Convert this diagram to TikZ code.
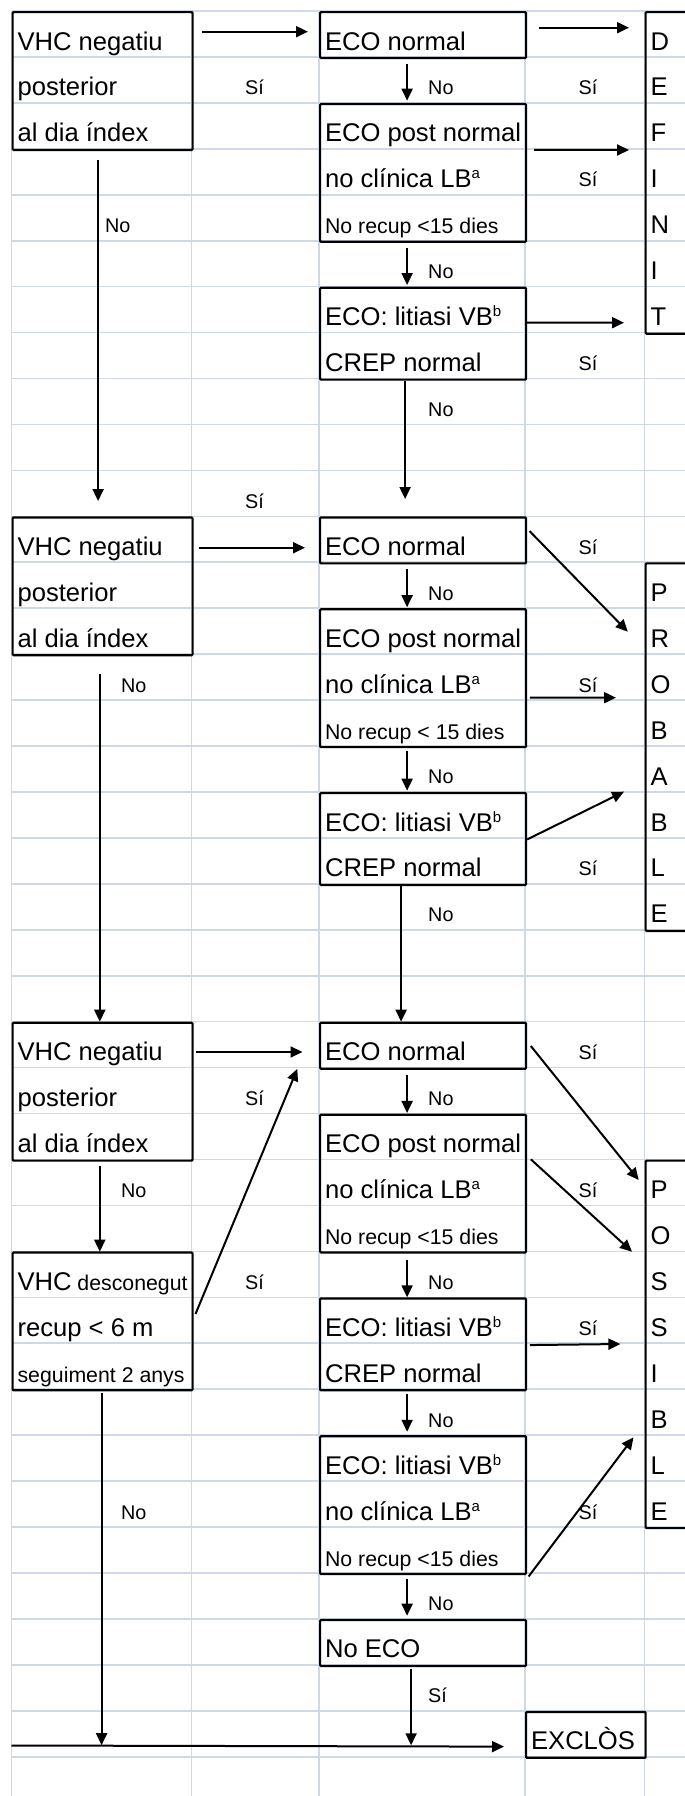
\documentclass[tikz,border=0pt]{standalone}
\usepackage{fontspec}
\setmainfont{Liberation Sans}
\usetikzlibrary{arrows.meta,calc}
\definecolor{gridblue}{RGB}{208,215,229}
\newcommand{\bigf}{\fontsize{25.6pt}{45.94pt}\selectfont}
\newcommand{\smallf}{\fontsize{21.3pt}{45.94pt}\selectfont}
\newcommand{\lblf}{\fontsize{19.8pt}{24pt}\selectfont}
\newcommand{\rw}{\rule[-8pt]{0pt}{45.94pt}}
\newcommand{\cellbr}{\\\rw}
\newcommand{\supx}[1]{\raisebox{9pt}{\fontsize{15pt}{15pt}\selectfont #1}}
\tikzset{
  gridln/.style={draw=gridblue, line width=1.6pt},
  box/.style={draw, line width=2.2pt, rounded corners=1pt, anchor=north west,
              align=left, inner xsep=5pt, inner ysep=0pt, font=\bigf,
              text width={#1-10pt},
              execute at begin node={\spaceskip=0pt\xspaceskip=0pt
                \hyphenpenalty=10000\exhyphenpenalty=10000\rw}},
  arr/.style={-{Triangle[length=12pt,width=11pt]}, line width=2pt},
  lbl/.style={font=\lblf, inner sep=0pt, anchor=base},
  lblw/.style={lbl, anchor=base west},
}
\begin{document}
\begin{tikzpicture}[x=1pt, y=-1pt]
  \clip (0,0) rectangle (685,1796);
  \fill[white] (0,0) rectangle (685,1796);
  % sheet grid
  \foreach \k in {0,...,38}
    \draw[gridln] (11.5,{11+45.94*\k}) -- (685,{11+45.94*\k});
  \foreach \x in {11.5,191.5,319,525,644.5}
    \draw[gridln] (\x,11) -- (\x,1796);

  % definit
  \node[box=180pt] (vhcA) at (11.5,11) {VHC negatiu\cellbr posterior\cellbr al dia índex};
  \node[box=206pt] (ecoA) at (319,11) {ECO normal};
  \node[box=206pt] (postA) at (319,102.88)
    {ECO~post~normal\cellbr no clínica LB\supx{a}\cellbr{\smallf No~recup~<15~dies}};
  \node[box=206pt] (litA) at (319,286.64) {ECO: litiasi VB\supx{b}\cellbr CREP normal};
  \node[box=70pt] (defin) at (644.5,11) {D\cellbr E\cellbr F\cellbr I\cellbr N\cellbr I\cellbr T};

  % probable
  \node[box=180pt] (vhcB) at (11.5,516.34) {VHC negatiu\cellbr posterior\cellbr al dia índex};
  \node[box=206pt] (ecoB) at (319,516.34) {ECO normal};
  \node[box=206pt] (postB) at (319,608.22)
    {ECO~post~normal\cellbr no clínica LB\supx{a}\cellbr{\smallf No~recup~<~15~dies}};
  \node[box=206pt] (litB) at (319,791.98) {ECO: litiasi VB\supx{b}\cellbr CREP normal};
  \node[box=70pt] (prob) at (644.5,562.28)
    {P\cellbr R\cellbr O\cellbr B\cellbr A\cellbr B\cellbr L\cellbr E};

  % possible
  \node[box=180pt] (vhcC) at (11.5,1021.68) {VHC negatiu\cellbr posterior\cellbr al dia índex};
  \node[box=206pt] (ecoC) at (319,1021.68) {ECO normal};
  \node[box=206pt] (postC) at (319,1113.56)
    {ECO~post~normal\cellbr no clínica LB\supx{a}\cellbr{\smallf No~recup~<15~dies}};
  \node[box=180pt] (desc) at (11.5,1251.38)
    {VHC~{\smallf desconegut}\cellbr recup~<~6~m\cellbr{\smallf seguiment~2~anys}};
  \node[box=206pt] (litC) at (319,1297.32) {ECO: litiasi VB\supx{b}\cellbr CREP normal};
  \node[box=206pt] (litD) at (319,1435.14)
    {ECO: litiasi VB\supx{b}\cellbr no clínica LB\supx{a}\cellbr{\smallf No~recup~<15~dies}};
  \node[box=70pt] (poss) at (644.5,1159.5)
    {P\cellbr O\cellbr S\cellbr S\cellbr I\cellbr B\cellbr L\cellbr E};
  \node[box=206pt] (noeco) at (319,1618.9) {No ECO};
  \node[box=119.5pt] (exclos) at (525,1710.78) {EXCLÒS};
  \coordinate (base) at (11.5,1745.5);

  % arrows, first block
  \draw[arr] ($(vhcA.north east)+(8.5,20.7)$) -- ($(ecoA.north west)+(-11,20.7)$);
  \draw[arr] ($(ecoA.north east)+(11.5,16.7)$) -- ($(defin.north west)+(-15.5,16.7)$);
  \draw[arr] ($(ecoA.south)+(-16,4.8)$) -- ($(postA.north)+(-16,-2.2)$);
  \draw[arr] ($(postA.north east)+(7,47.1)$) -- ($(defin.north west)+(-15.5,139)$);
  \draw[arr] ($(postA.south)+(-16,5)$) -- ($(litA.north)+(-16,-1.6)$);
  \draw[arr] ($(litA.north east)+(0,36)$) -- ($(defin.north west)+(-20.5,311.7)$);
  \draw[arr] ($(vhcA.south)+(-4.5,9)$) -- ($(vhcB.north)+(-4.5,-15.3)$);
  \draw[arr] ($(litA.south)+(-18,0)$) -- ($(ecoB.north)+(-18,-17.3)$);

  % arrows, second block
  \draw[arr] ($(vhcB.north east)+(5,31.4)$) -- ($(ecoB.north west)+(-14,31.4)$);
  \draw[arr] ($(ecoB.north east)+(2.3,14.7)$) -- ($(prob.north west)+(-16.7,69.4)$);
  \draw[arr] ($(ecoB.south)+(-16,4.4)$) -- ($(postB.north)+(-16,-1)$);
  \draw[arr] ($(postB.north east)+(2.7,89.5)$) -- ($(prob.north west)+(-28.5,135.4)$);
  \draw[arr] ($(postB.south)+(-16,3)$) -- ($(litB.north)+(-16,-1.3)$);
  \draw[arr] ($(litB.east)+(0,0.4)$) -- ($(prob.north west)+(-20.5,229.4)$);
  \draw[arr] ($(vhcB.south)+(-2.8,17.5)$) -- ($(vhcC.north)+(-2.8,0)$);
  \draw[arr] ($(litB.south)+(-22,0)$) -- ($(ecoC.north)+(-22,0)$);

  % arrows, third block
  \draw[arr] ($(vhcC.north east)+(2.5,30.3)$) -- ($(ecoC.north west)+(-16.5,30.3)$);
  \draw[arr] ($(ecoC.north east)+(3.6,24.3)$) -- ($(poss.north west)+(-5.8,20.5)$);
  \draw[arr] ($(ecoC.south)+(-16,5.4)$) -- ($(postC.north)+(-16,-0.6)$);
  \draw[arr] ($(desc.north east)+(1.8,62.6)$) -- ($(ecoC.south west)+(-21.7,-0.9)$);
  \draw[arr] ($(postC.north east)+(3.6,45.7)$) -- ($(poss.north west)+(-12.5,92.2)$);
  \draw[arr] ($(vhcC.south)+(-2.8,3.8)$) -- ($(desc.north)+(-2.8,0.3)$);
  \draw[arr] ($(postC.south)+(-16,6)$) -- ($(litC.north)+(-16,0)$);
  \draw[arr] ($(litC.east)+(2.7,0.7)$) -- ($(poss.north west)+(-24.1,184.5)$);
  \draw[arr] ($(litC.south)+(-16,2.8)$) -- ($(litD.north)+(-16,-3.4)$);
  \draw[arr] ($(litD.south east)+(1.4,1.3)$) -- ($(poss.north west)+(-11,277.8)$);
  \draw[arr] ($(litD.south)+(-16,3.7)$) -- ($(noeco.north)+(-16,-3.2)$);
  \draw[arr] ($(noeco.south)+(-12,1.9)$) -- ($(noeco.south)+(-12,78.2)$);
  \draw[arr] ($(desc.south)+(-1,1.5)$) -- ($(desc.south)+(-1,353.8)$);
  \draw[arr] (base) -- ($(exclos.west)+(-21,11.75)$);

  % labels
  \node[lbl] (siA1) at (254.5,94.88) {Sí};
  \node[lblw] (noA1) at (428,94.88) {No};
  \node[lbl] (siA2) at (588,94.88) {Sí};
  \node[lbl] (siA3) at (588,186.76) {Sí};
  \node[lblw] (noA2) at (105,232.7) {No};
  \node[lblw] (noA3) at (428,278.64) {No};
  \node[lbl] (siA4) at (588,370.52) {Sí};
  \node[lblw] (noA4) at (428,416.46) {No};

  \node[lbl] (siB1) at (254.5,508.34) {Sí};
  \node[lbl] (siB2) at (588,554.28) {Sí};
  \node[lblw] (noB1) at (428,600.22) {No};
  \node[lblw] (noB2) at (121,692.1) {No};
  \node[lbl] (siB3) at (588,692.1) {Sí};
  \node[lblw] (noB3) at (428,783.98) {No};
  \node[lbl] (siB4) at (588,875.86) {Sí};
  \node[lblw] (noB4) at (428,921.8) {No};

  \node[lbl] (siC1) at (588,1059.62) {Sí};
  \node[lbl] (siC2) at (254.5,1105.56) {Sí};
  \node[lblw] (noC1) at (428,1105.56) {No};
  \node[lblw] (noC2) at (121,1197.44) {No};
  \node[lbl] (siC3) at (588,1197.44) {Sí};
  \node[lbl] (siC4) at (254.5,1289.32) {Sí};
  \node[lblw] (noC3) at (428,1289.32) {No};
  \node[lbl] (siC5) at (588,1335.26) {Sí};
  \node[lblw] (noC4) at (428,1427.14) {No};
  \node[lblw] (noC5) at (121,1519.02) {No};
  \node[lbl] (siC6) at (588,1519.02) {Sí};
  \node[lblw] (noC6) at (428,1610.9) {No};
  \node[lblw] (siC7) at (428,1702.78) {Sí};
\end{tikzpicture}
\end{document}
